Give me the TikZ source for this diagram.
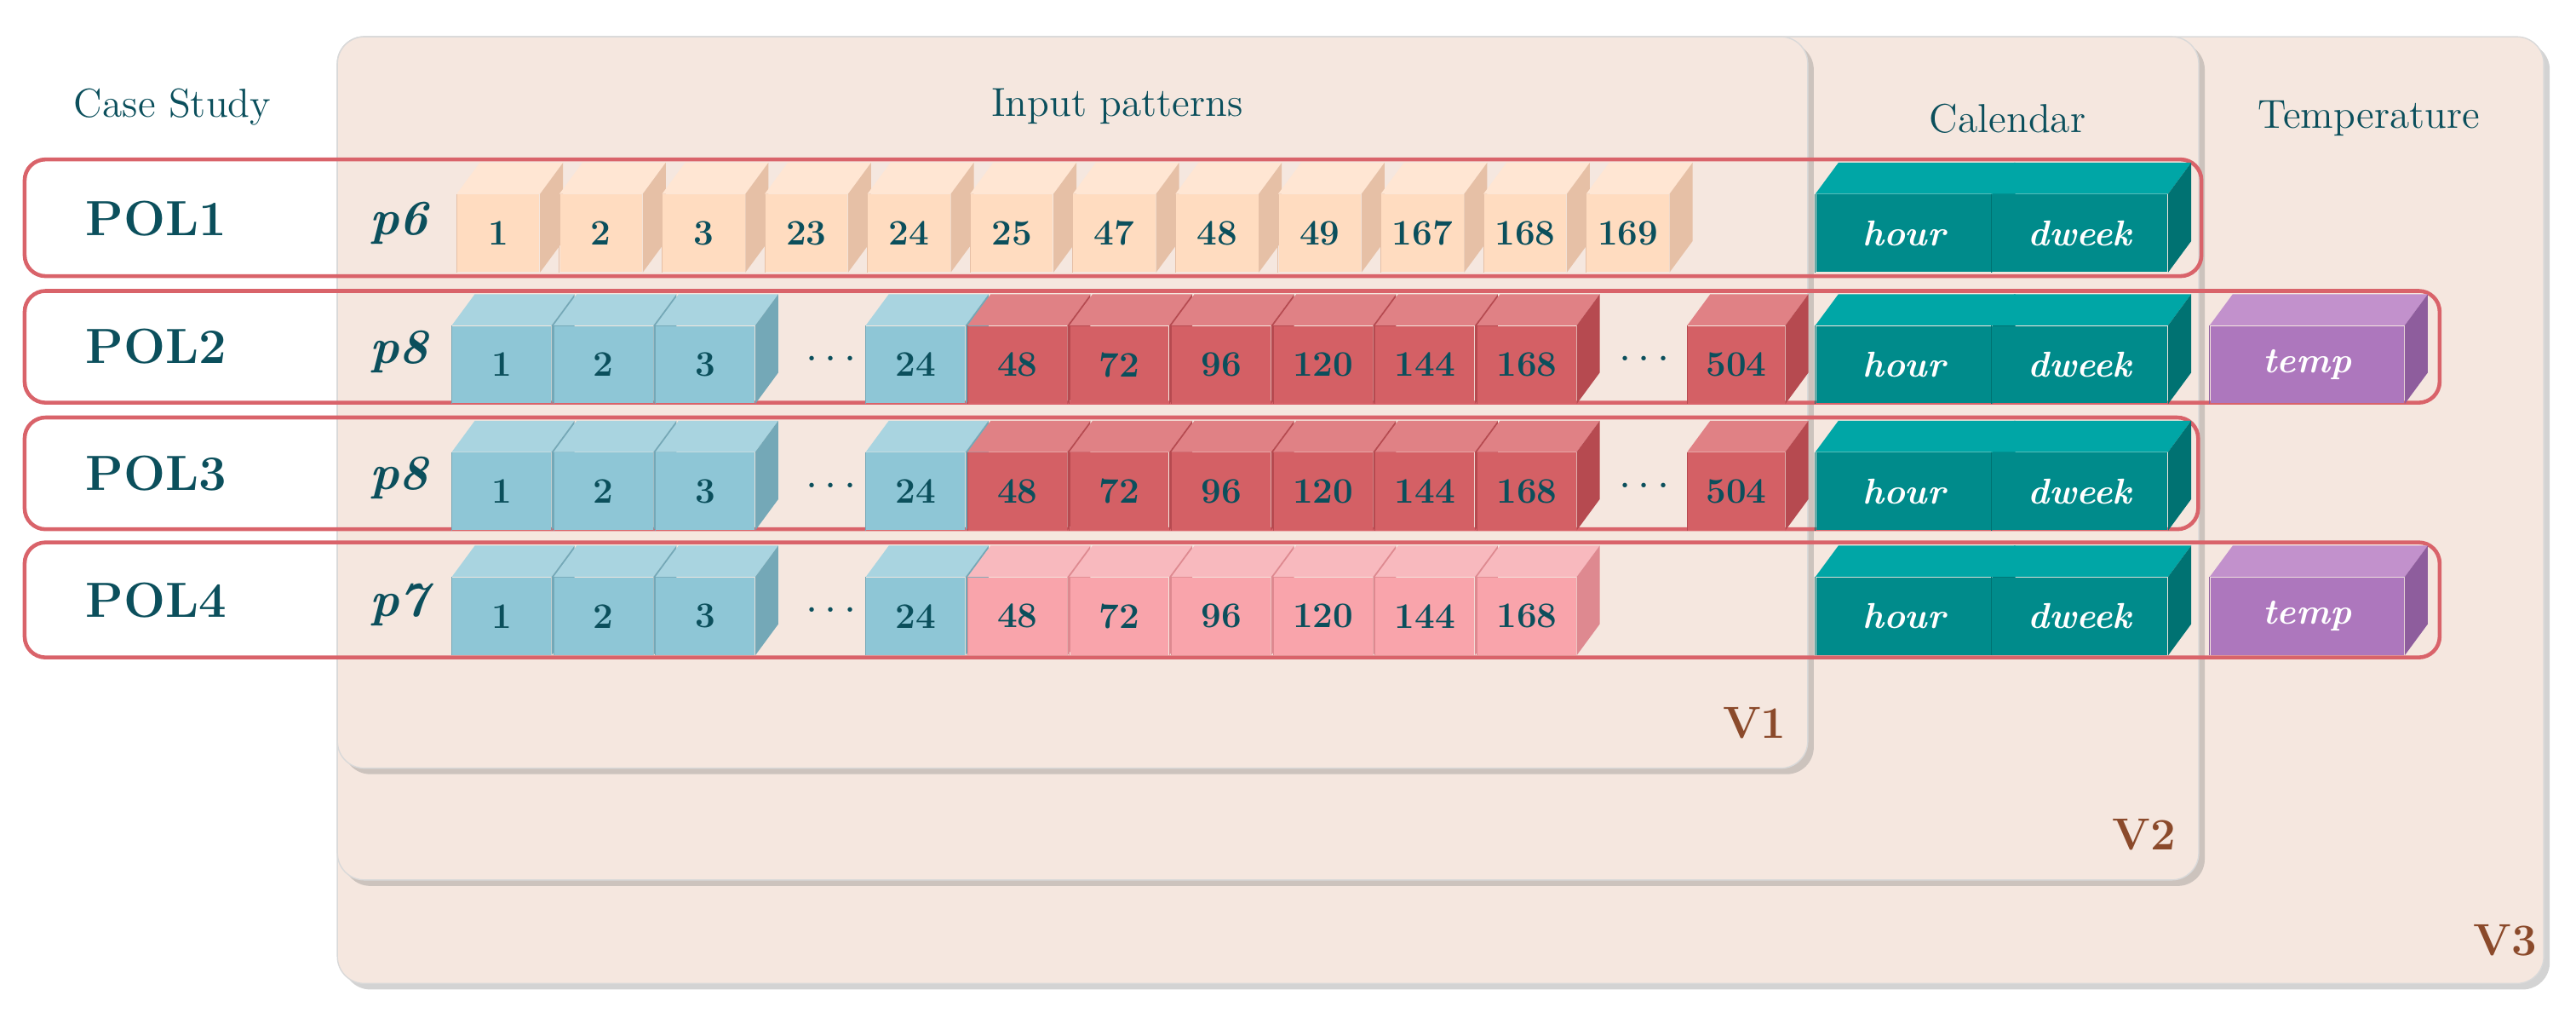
\documentclass[tikz,border=0pt]{standalone}
\usepackage{amsmath}
\usetikzlibrary{shadows}

\definecolor{ink}{HTML}{0B4F5C}
\definecolor{vbrown}{HTML}{8B4A2B}
\definecolor{panel}{HTML}{F5E7DF}
\definecolor{rowred}{HTML}{D9636A}
\definecolor{peachF}{HTML}{FFDCC0}\definecolor{peachT}{HTML}{FFE6D3}\definecolor{peachS}{HTML}{E6C0A6}
\definecolor{blueF}{HTML}{8EC6D6}\definecolor{blueT}{HTML}{A9D4E0}\definecolor{blueS}{HTML}{74A8B7}
\definecolor{redF}{HTML}{D46065}\definecolor{redT}{HTML}{E08185}\definecolor{redS}{HTML}{B64A50}
\definecolor{pinkF}{HTML}{F9A4AB}\definecolor{pinkT}{HTML}{F8B9BE}\definecolor{pinkS}{HTML}{DE8990}
\definecolor{tealF}{HTML}{008B8B}\definecolor{tealT}{HTML}{00A6A6}\definecolor{tealS}{HTML}{007272}
\definecolor{purpF}{HTML}{AD77BD}\definecolor{purpT}{HTML}{C291CC}\definecolor{purpS}{HTML}{8E5D9D}

% name, x, y, width, colour, text
\newcommand{\cube}[6]{%
  \node[cubeface, fill=#5F, minimum width={#4*0.193mm}] (#1) at ({#2},{#3}) {#6};
  \fill[#5T] (#1.north west) -- ([shift={(14,-19)}]#1.north west)
    -- ([shift={(14,-19)}]#1.north east) -- (#1.north east) -- cycle;
  \fill[#5S] (#1.north east) -- ([shift={(14,-19)}]#1.north east)
    -- ([shift={(14,-19)}]#1.south east) -- (#1.south east) -- cycle;
  \draw[#5S, line width=0.3pt] (#1.north west) -- (#1.south west);
}

\begin{document}
\begin{tikzpicture}[x=0.193mm, y=-0.193mm,
  cubeface/.style={anchor=north west, minimum height={47*0.193mm}, inner sep=0pt,
    text=ink, font=\fontsize{12}{12}\selectfont\bfseries},
  panelbox/.style={fill=panel, draw=black!15, rounded corners=9pt,
    drop shadow={opacity=0.35, shadow xshift=2pt, shadow yshift=-2pt}},
  rowbox/.style={draw=rowred, line width=1.3pt, rounded corners=7pt},
  head/.style={text=ink, font=\fontsize{13.5}{14}\selectfont},
  pol/.style={text=ink, font=\fontsize{16.5}{17}\selectfont\bfseries},
  plab/.style={text=ink, font=\fontsize{16.5}{17}\selectfont\bfseries\itshape},
  dots/.style={text=ink, font=\Large\bfseries},
  vlab/.style={text=vbrown, font=\fontsize{15}{15}\selectfont\bfseries}]

  \useasboundingbox (0,0) rectangle (1568,630);

  % panels
  \node[panelbox, minimum width={1343*0.193mm}, minimum height={576*0.193mm}, anchor=north west] (v3) at (205,22) {};
  \node[panelbox, minimum width={1133*0.193mm}, minimum height={513*0.193mm}, anchor=north west] (v2) at (205,22) {};
  \node[panelbox, minimum width={895*0.193mm}, minimum height={445*0.193mm}, anchor=north west] (v1) at (205,22) {};
  \node[vlab] (l1) at (1068,440) {V1};
  \node[vlab] (l2) at (1305,508) {V2};
  \node[vlab] (l3) at (1525,572) {V3};

  % headers
  \node[head] (hcase) at (105,65) {Case Study};
  \node[head] (hin) at (680,65) {Input patterns};
  \node[head] (hcal) at (1222,72) {Calendar};
  \node[head] (htemp) at (1442,72) {Temperature};

  % rows
  \draw[rowbox] (15,97) rectangle (1340,168);
  \draw[rowbox] (15,177) rectangle (1485,245);
  \draw[rowbox] (15,254) rectangle (1338,322);
  \draw[rowbox] (15,330) rectangle (1485,400);

  \node[pol] (pol1) at (95,133) {POL1};
  \node[pol] (pol2) at (95,211) {POL2};
  \node[pol] (pol3) at (95,288) {POL3};
  \node[pol] (pol4) at (95,365) {POL4};
  \node[plab] (p1) at (243,136) {p6};
  \node[plab] (p2) at (243,214) {p8};
  \node[plab] (p3) at (243,291) {p8};
  \node[plab] (p4) at (243,368) {p7};

  % POL1
  \foreach \v [count=\i] in {1,2,3,23,24,25,47,48,49,167,168,169}
    {\cube{a\i}{278+(\i-1)*62.5}{118}{50}{peach}{\v}}

  % POL2 to POL4
  \foreach \r/\y in {b/198,c/275,d/351}{
    \foreach \v [count=\i] in {1,2,3}
      {\cube{\r\i}{275+(\i-1)*62}{\y}{60}{blue}{\v}}
    \node[dots] (\r dots) at (508,\y+21) {$\cdots$};
    \cube{\r24}{527}{\y}{60}{blue}{24}
  }
  \foreach \r/\y in {b/198,c/275}{
    \foreach \v [count=\i] in {48,72,96,120,144,168}
      {\cube{\r r\i}{589+(\i-1)*62}{\y}{60}{red}{\v}}
    \node[dots] (\r dotsr) at (1003,\y+21) {$\cdots$};
    \cube{\r504}{1027}{\y}{59}{red}{504}
  }
  \foreach \v [count=\i] in {48,72,96,120,144,168}
    {\cube{dr\i}{589+(\i-1)*62}{351}{60}{pink}{\v}}

  % calendar and temperature
  \foreach \r/\y in {a/118,b/198,c/275,d/351}{
    \cube{\r hour}{1105}{\y}{107}{teal}{\textcolor{white}{\large\itshape hour}}
    \cube{\r dweek}{1212}{\y}{107}{teal}{\textcolor{white}{\large\itshape dweek}}
  }
  \foreach \r/\y in {b/198,d/351}
    {\cube{\r temp}{1345}{\y}{118}{purp}{\textcolor{white}{\large\itshape temp}}}
\end{tikzpicture}
\end{document}
